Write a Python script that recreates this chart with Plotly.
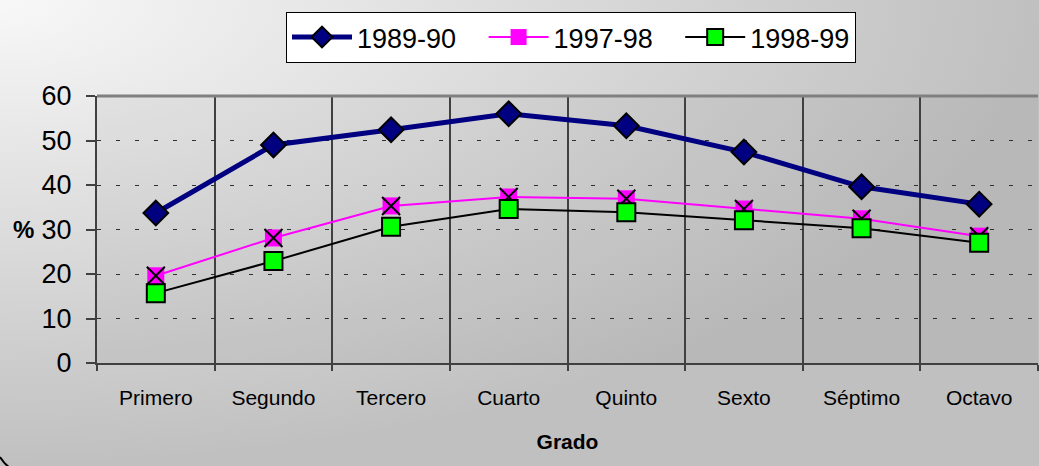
import base64
import plotly.graph_objects as go

categories = ["Primero", "Segundo", "Tercero", "Cuarto", "Quinto", "Sexto", "Séptimo", "Octavo"]
s1989 = [33.7, 49.0, 52.4, 56.0, 53.3, 47.4, 39.6, 35.7]
s1997 = [19.6, 28.1, 35.3, 37.3, 36.9, 34.6, 32.4, 28.5]
s1998 = [15.7, 22.9, 30.6, 34.6, 33.9, 32.1, 30.3, 27.0]
names = ["1989-90", "1997-98", "1998-99"]
y_ticks = [0, 10, 20, 30, 40, 50, 60]

W, H = 1039, 466
L, R, T, B = 97, 1, 96, 103
pw, ph = W - L - R, H - T - B

svg = f'''<svg xmlns="http://www.w3.org/2000/svg" width="{W}" height="{H}" viewBox="0 0 {W} {H}">
<defs>
<radialGradient id="g" cx="0" cy="0" r="1" gradientUnits="objectBoundingBox">
<stop offset="0" stop-color="#f8f8f8"/>
<stop offset="1" stop-color="#c0c0c0"/>
</radialGradient>
</defs>
<rect x="0" y="0" width="{W}" height="{H}" fill="url(#g)"/>
<rect x="{L}" y="{T}" width="{pw}" height="{ph}" fill="#000" fill-opacity="0.04"/>
<path d="M 0 457 A 40 40 0 0 0 34 476" fill="none" stroke="#000" stroke-width="2"/>
</svg>'''
src = "data:image/svg+xml;base64," + base64.b64encode(svg.encode()).decode()

pad = "\u00a0" * 3

fig = go.Figure()
fig.add_trace(go.Scatter(
    x=categories, y=s1989, name=names[0] + pad, mode="lines+markers",
    line=dict(color="#000080", width=5),
    marker=dict(symbol="diamond", size=19, color="#000080", line=dict(color="#000", width=2)),
))
fig.add_trace(go.Scatter(
    x=categories, y=s1997, name=names[1] + pad, mode="lines+markers",
    line=dict(color="#ff00ff", width=2),
    marker=dict(symbol="square", size=17, color="#ff00ff", line=dict(width=0)),
))
fig.add_trace(go.Scatter(
    x=categories, y=s1997, name=names[1], mode="markers", showlegend=False,
    marker=dict(symbol="x-thin-open", size=18, color="#000", line=dict(color="#000", width=2)),
))
fig.add_trace(go.Scatter(
    x=categories, y=s1998, name=names[2], mode="lines+markers",
    line=dict(color="#000", width=2),
    marker=dict(symbol="square", size=18, color="#00ff00", line=dict(color="#000", width=2)),
))

fig.update_layout(
    width=W, height=H,
    margin=dict(l=L, r=R, t=T, b=B, autoexpand=False),
    paper_bgcolor="rgba(0,0,0,0)", plot_bgcolor="rgba(0,0,0,0)",
    font=dict(family="Liberation Sans, Arial, sans-serif", color="#000"),
    images=[dict(source=src, xref="paper", yref="paper",
                 x=-L / pw, y=1 + T / ph, sizex=W / pw, sizey=H / ph,
                 xanchor="left", yanchor="top", sizing="stretch", layer="below")],
    legend=dict(orientation="h", x=(571 - L) / pw, xanchor="center",
                y=1 + (96 - 12) / ph, yanchor="top",
                bgcolor="#fff", bordercolor="#000", borderwidth=1,
                font=dict(size=27), itemwidth=60, tracegroupgap=0),
    showlegend=True,
)
fig.update_xaxes(
    type="category", tickson="boundaries", showgrid=True, gridcolor="#404040", gridwidth=1.5,
    ticks="outside", ticklen=6, tickcolor="#404040", tickwidth=1.5,
    showline=True, linecolor="#404040", linewidth=2,
    tickfont=dict(size=21), range=[-0.5, 7.5], ticklabelstandoff=15,
    title=dict(text="<b>Grado</b>", font=dict(size=21), standoff=26),
)
fig.update_yaxes(
    range=[0, 60], tickvals=y_ticks, showgrid=True, gridcolor="#303030", gridwidth=1,
    griddash="4px,15px", zeroline=False,
    ticks="outside", ticklen=9, tickcolor="#404040", tickwidth=1.5,
    showline=True, linecolor="#404040", linewidth=2,
    tickfont=dict(size=27), ticklabelstandoff=9,
)
fig.add_shape(type="line", xref="paper", yref="paper", x0=0, x1=1, y0=1, y1=1,
              line=dict(color="#808080", width=3))
fig.add_annotation(text="<b>%</b>", xref="paper", yref="y", x=(23 - L) / pw, y=30,
                   xanchor="center", yanchor="middle", showarrow=False, font=dict(size=24))

fig.write_html("out.html", config={"displayModeBar": False},
               post_script="document.body.style.margin='0';")
